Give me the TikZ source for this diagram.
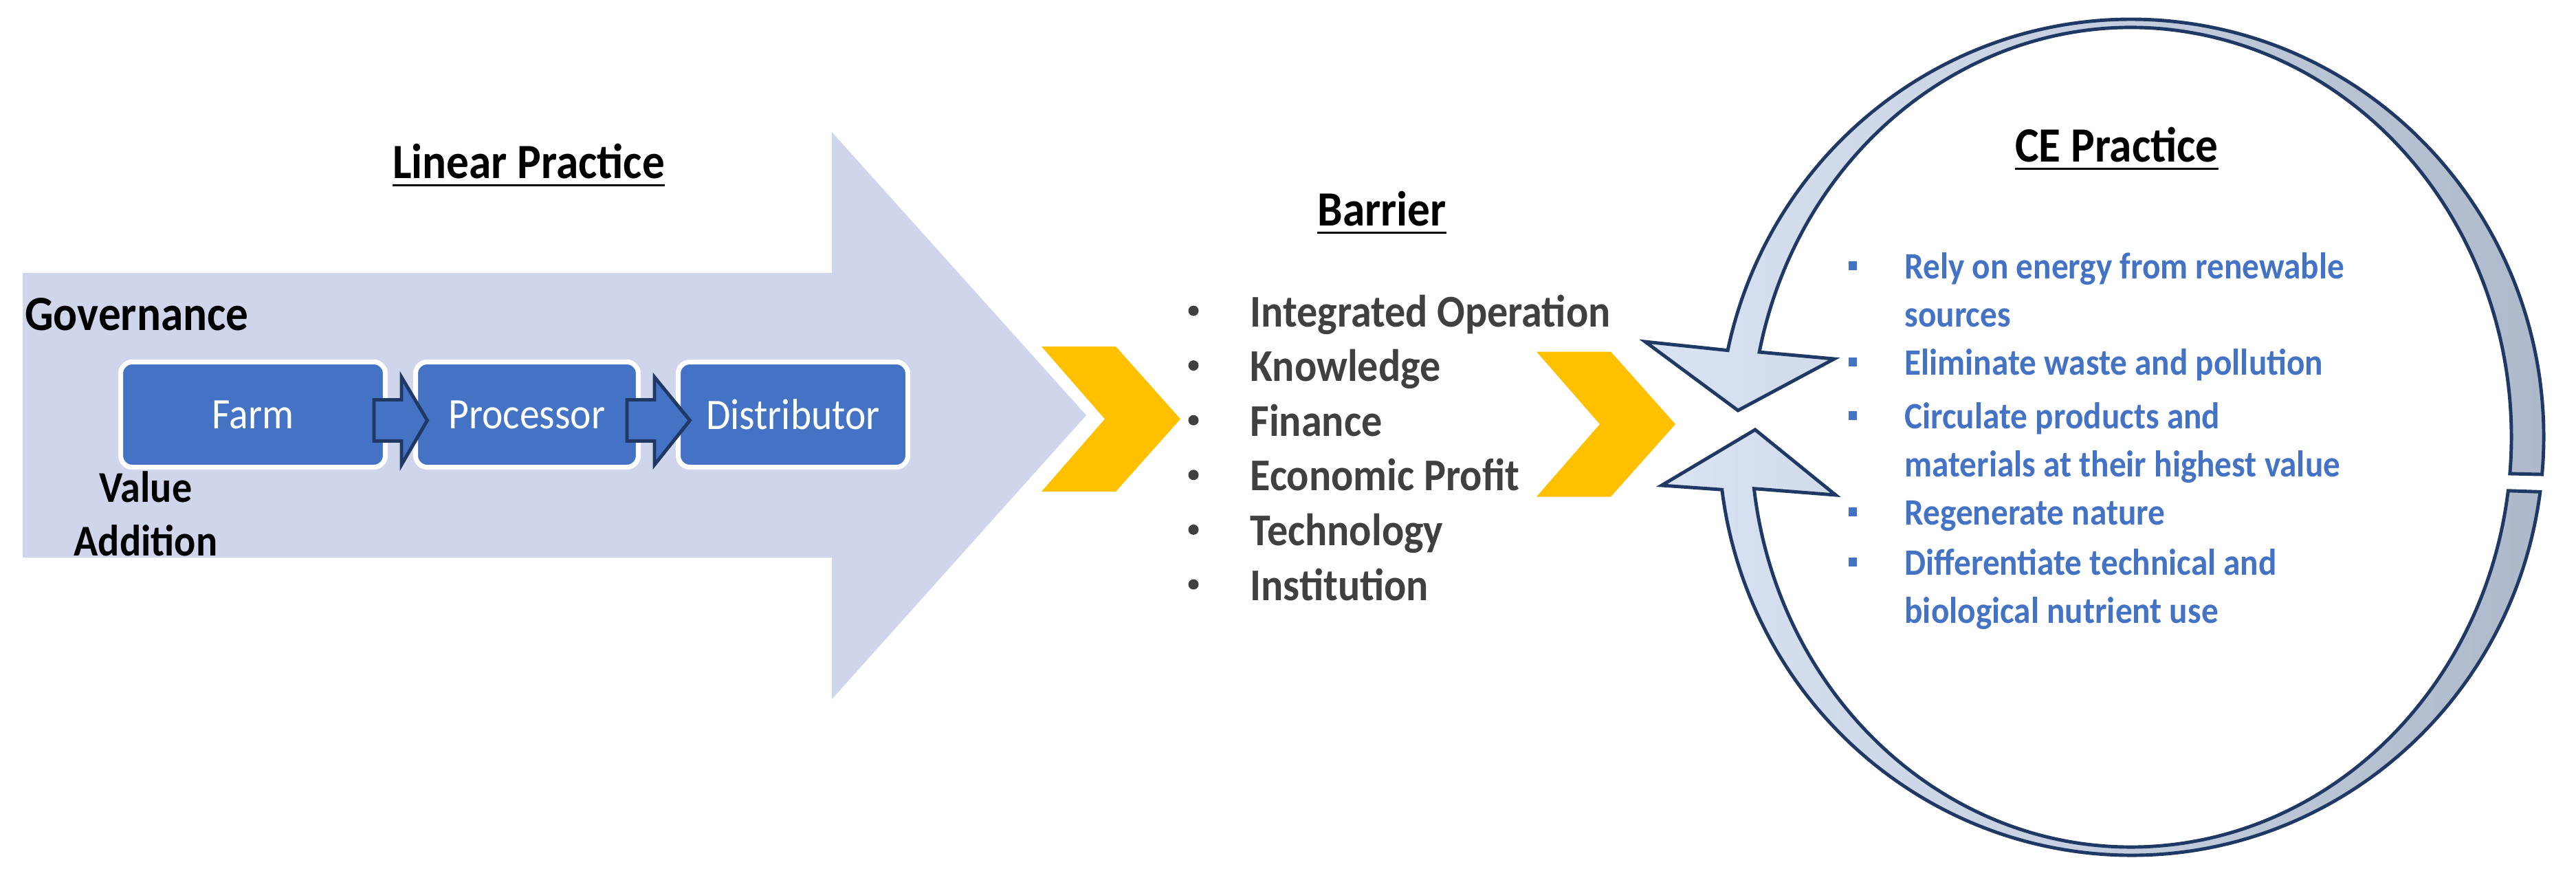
\documentclass[tikz,border=0pt]{standalone}
\usepackage{fontspec}
\setmainfont{Carlito}[FakeStretch=0.91]
\usetikzlibrary{positioning,calc}
\definecolor{cShaft}{RGB}{207,213,234}
\definecolor{cBox}{RGB}{68,114,196}
\definecolor{cNavy}{RGB}{31,56,100}
\definecolor{cAmber}{RGB}{255,192,0}
\definecolor{cText}{RGB}{64,64,64}
\definecolor{cRingL}{RGB}{218,227,243}
\definecolor{cRingR}{RGB}{173,185,202}
\tikzset{
	stagebox/.style={draw=white, line width=1pt, rounded corners=2.4pt,
		fill=cBox, text=white, minimum height=0.765cm, inner sep=0pt,
		outer sep=0pt, font=\fontsize{9}{11}\selectfont},
	flowarr/.style={draw=cNavy, line width=0.7pt, fill=cBox},
	headtxt/.style={inner sep=0pt, font=\bfseries\fontsize{10.2}{12}\selectfont},
	sidetxt/.style={inner sep=0pt, align=center,
		font=\bfseries\fontsize{9.1}{11.1}\selectfont},
	bartxt/.style={inner sep=0pt, anchor=base west, text=cText,
		font=\bfseries\fontsize{9.4}{11}\selectfont},
	cetxt/.style={inner sep=0pt, anchor=base west, align=left, text=cBox,
		font=\bfseries\fontsize{7.7}{9.96}\selectfont},
	ringband/.style={draw=cNavy, line width=0.7pt, left color=cRingL,
		right color=cRingR},
}
% block arrow from one stage box to the next
\newcommand{\flowarrow}[2]{%
	\draw[flowarr] ($(#1.east)+(-0.165,0.215)$) -- ($(#1.east)+(0.235,0.215)$)
	-- ($(#1.east)+(0.235,0.545)$) -- ($(#2.west)+(0.17,-0.085)$)
	-- ($(#1.east)+(0.235,-0.73)$) -- ($(#1.east)+(0.235,-0.385)$)
	-- ($(#1.east)+(-0.165,-0.385)$) -- cycle;}
\newcommand{\cebul}{\makebox[0.405cm][l]{\rule[1.7pt]{1.6pt}{1.9pt}}}

\begin{document}
\begin{tikzpicture}[x=0.5cm, y=0.5cm]
	\useasboundingbox (0,0) rectangle (37.47,12.79);
	% linear practice arrow
	\fill[cShaft] (0.33,8.82) -- (12.10,8.82) -- (12.10,10.87) -- (15.80,6.75)
	-- (12.10,2.62) -- (12.10,4.68) -- (0.33,4.68) -- cycle;
	\node[headtxt, anchor=base] (linhead) at (7.69,10.20) {\underline{Linear Practice}};
	\node[headtxt, anchor=base west] (gov) at (0.35,7.99) {Governance};
	% multi-line nodes: base is the last line
	\node[sidetxt, anchor=base] (valadd) at (2.12,4.71) {Value\\Addition};
	\node[stagebox, minimum width=1.925cm] (farm) at (3.68,6.76) {Farm};
	\node[stagebox, minimum width=1.62cm, right=0.22cm of farm] (proc) {Processor};
	\node[stagebox, minimum width=1.67cm, right=0.29cm of proc] (dist) {Distributor};
	\flowarrow{farm}{proc}
	\flowarrow{proc}{dist}
	% chevrons
	\foreach \cx/\cy in {15.15/6.695, 22.35/6.62}
	\fill[cAmber] (\cx,\cy+1.055) -- ++(1.08,0) -- ++(0.94,-1.055)
	-- ++(-0.94,-1.055) -- ++(-1.08,0) -- ++(0.92,1.055) -- cycle;
	% barriers
	\node[headtxt, anchor=base] (barhead) at (20.10,9.51) {\underline{Barrier}};
	\foreach \bname [count=\i] in {Integrated Operation, Knowledge, Finance,
		Economic Profit, Technology, Institution}{
		\node[bartxt] (bar\i) at (18.17,{8.04-0.796*(\i-1)}) {\bname};
		\fill[cText] ($(bar\i.base west)+(-0.81,0.23)$) circle[radius=0.075];
	}
	% CE ring
	\coordinate (ringC) at (31,6.43);
	\draw[ringband] ($(ringC)+(-5.1:6 and 6.08)$)
	arc[start angle=-5.1, end angle=168, x radius=6, y radius=6.08]
	-- (23.93,7.82) -- (25.28,6.82) -- (26.68,7.57)
	-- ($(ringC)+(168:5.53 and 5.96)$)
	arc[start angle=168, end angle=-5.1, x radius=5.53, y radius=5.96] -- cycle;
	\draw[ringband] ($(ringC)+(-7.5:6 and 6.08)$)
	arc[start angle=-7.5, end angle=-172.8, x radius=6, y radius=6.08]
	-- (24.17,5.73) -- (25.53,6.54) -- (26.70,5.59)
	-- ($(ringC)+(-172.8:5.53 and 5.96)$)
	arc[start angle=-172.8, end angle=-7.5, x radius=5.53, y radius=5.96] -- cycle;
	\node[headtxt, anchor=base] (cehead) at (30.79,10.44) {\underline{CE Practice}};
	\node[cetxt] (ce1) at (26.88,8.04)
	{\cebul Rely on energy from renewable\\\hspace*{0.405cm}sources};
	\node[cetxt] (ce2) at (26.88,7.34) {\cebul Eliminate waste and pollution};
	\node[cetxt] (ce3) at (26.88,5.86)
	{\cebul Circulate products and\\\hspace*{0.405cm}materials at their highest value};
	\node[cetxt] (ce4) at (26.88,5.16) {\cebul Regenerate nature};
	\node[cetxt] (ce5) at (26.88,3.73)
	{\cebul Differentiate technical and\\\hspace*{0.405cm}biological nutrient use};
\end{tikzpicture}
\end{document}
